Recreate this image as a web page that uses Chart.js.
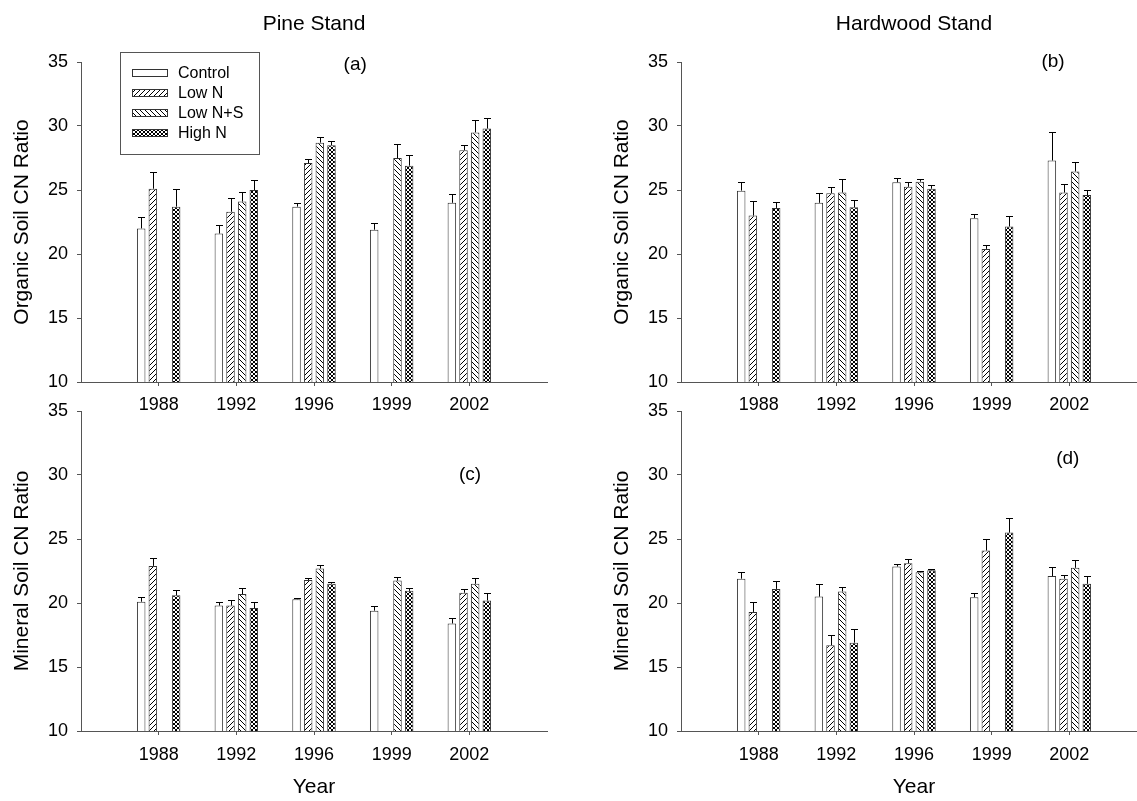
<!DOCTYPE html>
<html>
<head>
<meta charset="utf-8">
<script src="https://cdn.jsdelivr.net/npm/chart.js@4.4.1/dist/chart.umd.min.js"></script>
<style>
  html, body { margin: 0; padding: 0; background: #fff; overflow: hidden; }
  #wrap { position: relative; width: 1137px; height: 801px; overflow: hidden; }
  canvas { position: absolute; }
</style>
</head>
<body>
<div id="wrap">
  <canvas id="panelA" width="568" height="420" style="left:0;top:0"></canvas>
  <canvas id="panelB" width="560" height="420" style="left:600px;top:0"></canvas>
  <canvas id="panelC" width="568" height="411" style="left:0;top:390px"></canvas>
  <canvas id="panelD" width="560" height="411" style="left:600px;top:390px"></canvas>
</div>
<script>
// Data: CN ratio means and (upper) standard errors
const years = ['1988', '1992', '1996', '1999', '2002'];
const treatments = ['Control', 'Low N', 'Low N+S', 'High N'];
const yTicks = [10, 15, 20, 25, 30, 35];

// (a) Pine stand, organic soil   -- rows: Control, Low N, Low N+S, High N
const pineOrganic = [
    [22.0, 21.6, 23.7, 21.9, 24.0],
    [25.1, 23.3, 27.1, null, 28.1],
    [null, 24.1, 28.7, 27.5, 29.5],
    [23.7, 25.0, 28.5, 26.9, 29.8]
];
const pineOrganicErr = [
    [0.9, 0.7, 0.25, 0.55, 0.7],
    [1.3, 1.05, 0.3, null, 0.45],
    [null, 0.75, 0.45, 1.1, 0.95],
    [1.4, 0.8, 0.3, 0.85, 0.85]
];

// (b) Hardwood stand, organic soil
const hardOrganic = [
    [24.95, 24.0, 25.6, 22.8, 27.3],
    [23.0, 24.75, 25.25, 20.4, 24.8],
    [null, 24.8, 25.65, null, 26.45],
    [23.6, 23.65, 25.1, 22.15, 24.6]
];
const hardOrganicErr = [
    [0.7, 0.8, 0.35, 0.35, 2.2],
    [1.15, 0.5, 0.4, 0.3, 0.65],
    [null, 1.05, 0.2, null, 0.75],
    [0.5, 0.6, 0.3, 0.85, 0.4]
];

// (c) Pine stand, mineral soil
const pineMineral = [
    [20.1, 19.8, 20.3, 19.4, 18.4],
    [22.9, 19.8, 21.8, null, 20.8],
    [null, 20.7, 22.7, 21.75, 21.5],
    [20.6, 19.6, 21.5, 20.95, 20.2]
];
const pineMineralErr = [
    [0.4, 0.25, 0.08, 0.35, 0.45],
    [0.6, 0.4, 0.15, null, 0.3],
    [null, 0.45, 0.25, 0.3, 0.45],
    [0.4, 0.5, 0.12, 0.2, 0.55]
];

// (d) Hardwood stand, mineral soil
const hardMineral = [
    [21.9, 20.5, 22.85, 20.45, 22.1],
    [19.3, 16.7, 23.1, 24.1, 21.9],
    [null, 20.9, 22.4, null, 22.75],
    [21.1, 16.9, 22.55, 25.5, 21.5]
];
const hardMineralErr = [
    [0.5, 0.95, 0.2, 0.35, 0.7],
    [0.75, 0.8, 0.3, 0.9, 0.3],
    [null, 0.35, 0.1, null, 0.6],
    [0.6, 1.05, 0.08, 1.15, 0.6]
];

const FONT = "'Liberation Sans', Arial, sans-serif";
const AXIS = '#555';

// hatch fills
function makePattern(size, draw) {
    const c = document.createElement('canvas');
    c.width = c.height = size;
    const g = c.getContext('2d');
    g.fillStyle = '#fff';
    g.fillRect(0, 0, size, size);
    g.strokeStyle = '#000';
    g.lineWidth = 1;
    draw(g, size);
    return g.createPattern(c, 'repeat');
}
const slash = (g, s) => {
    g.beginPath();
    g.moveTo(0, s); g.lineTo(s, 0);
    g.moveTo(-1, 1); g.lineTo(1, -1);
    g.moveTo(s - 1, s + 1); g.lineTo(s + 1, s - 1);
    g.stroke();
};
const backslash = (g, s) => {
    g.beginPath();
    g.moveTo(0, 0); g.lineTo(s, s);
    g.moveTo(-1, s - 1); g.lineTo(1, s + 1);
    g.moveTo(s - 1, -1); g.lineTo(s + 1, 1);
    g.stroke();
};
const fills = [
    '#fff',
    makePattern(5, slash),
    makePattern(5, backslash),
    makePattern(4, (g, s) => { slash(g, s); backslash(g, s); })
];

// upper error bars with a cap
const errorBars = {
    id: 'errorBars',
    afterDatasetsDraw(chart) {
        const ctx = chart.ctx;
        const y = chart.scales.y;
        ctx.save();
        ctx.strokeStyle = '#000';
        ctx.lineWidth = 1;
        chart.data.datasets.forEach((ds, i) => {
            chart.getDatasetMeta(i).data.forEach((bar, j) => {
                const v = ds.data[j].y;
                const e = ds.errors[j];
                if (v == null || e == null) return;
                const top = Math.round(y.getPixelForValue(v + e)) + 0.5;
                const x = Math.round(bar.x) + 0.5;
                ctx.beginPath();
                ctx.moveTo(x, bar.y);
                ctx.lineTo(x, top);
                ctx.moveTo(x - 3.5, top);
                ctx.lineTo(x + 3.5, top);
                ctx.stroke();
            });
        });
        ctx.restore();
    }
};

// (a), (b) ... placed in data units
const panelLabel = {
    id: 'panelLabel',
    afterDraw(chart, args, opts) {
        if (!opts.text) return;
        const ctx = chart.ctx;
        ctx.save();
        ctx.fillStyle = '#000';
        ctx.font = '19px ' + FONT;
        ctx.textAlign = 'center';
        ctx.textBaseline = 'middle';
        ctx.fillText(opts.text, chart.scales.x.getPixelForValue(opts.x), chart.scales.y.getPixelForValue(opts.y));
        ctx.restore();
    }
};

// boxed legend drawn inside panel (a)
const boxLegend = {
    id: 'boxLegend',
    afterDraw(chart, args, opts) {
        if (!opts.show) return;
        const ctx = chart.ctx;
        ctx.save();
        ctx.strokeStyle = AXIS;
        ctx.lineWidth = 1;
        ctx.strokeRect(120.5, 52.5, 139, 102);
        ctx.font = '16px ' + FONT;
        ctx.textBaseline = 'middle';
        chart.data.datasets.forEach((ds, i) => {
            const cy = 73 + i * 20;
            ctx.fillStyle = ds.backgroundColor;
            ctx.fillRect(132, cy - 3.5, 36, 7);
            ctx.strokeStyle = '#333';
            ctx.strokeRect(132.5, cy - 3.5, 35, 7);
            ctx.fillStyle = '#000';
            ctx.fillText(ds.label, 178, cy + 1);
        });
        ctx.restore();
    }
};

function makePanel(id, means, errs, o) {
    const datasets = treatments.map((name, k) => ({
        label: name,
        data: years.map((yr, i) => ({ x: i + 1, y: means[k][i] })),
        errors: errs[k],
        backgroundColor: fills[k],
        borderColor: '#333',
        borderWidth: 1,
        borderSkipped: false
    }));

    new Chart(document.getElementById(id), {
        type: 'bar',
        data: { datasets: datasets },
        plugins: [errorBars, panelLabel, boxLegend],
        options: {
            responsive: false,
            animation: false,
            barPercentage: 0.73,
            categoryPercentage: 0.6,
            layout: { padding: { left: 0, right: o.padRight, top: o.title ? 0 : 21, bottom: 0 } },
            plugins: {
                legend: { display: false },
                tooltip: { enabled: false },
                title: {
                    display: !!o.title,
                    text: o.title,
                    fullSize: false,
                    color: '#000',
                    font: { family: FONT, size: 21, weight: 'normal' },
                    padding: { top: 11.4, bottom: 25.4 }
                },
                panelLabel: { text: o.letter, x: o.lx, y: o.ly },
                boxLegend: { show: !!o.legend }
            },
            scales: {
                x: {
                    type: 'linear',
                    min: 0,
                    max: 6,
                    offset: false,
                    grid: { offset: false, drawOnChartArea: false, tickLength: 4, color: AXIS },
                    border: { color: AXIS },
                    afterBuildTicks: s => { s.ticks = years.map((yr, i) => ({ value: i + 1 })); },
                    afterFit: s => { s.height = o.xHeight; },
                    ticks: {
                        callback: v => years[v - 1],
                        color: '#000',
                        padding: o.xTitle ? 9 : 8,
                        maxRotation: 0,
                        font: { family: FONT, size: 18 }
                    },
                    title: {
                        display: !!o.xTitle,
                        text: o.xTitle,
                        color: '#000',
                        font: { family: FONT, size: 21 },
                        padding: { top: 0, bottom: 1.4 }
                    }
                },
                y: {
                    min: 10,
                    max: 35,
                    grid: { drawOnChartArea: false, tickLength: 4, color: AXIS },
                    border: { color: AXIS },
                    afterBuildTicks: s => { s.ticks = yTicks.map(v => ({ value: v })); },
                    afterFit: s => { s.width = 81; },
                    ticks: {
                        color: '#000',
                        padding: 9,
                        font: { family: FONT, size: 18 }
                    },
                    title: {
                        display: true,
                        text: o.yTitle,
                        color: '#000',
                        font: { family: FONT, size: 21 },
                        padding: { top: 9.4, bottom: 0 }
                    }
                }
            }
        }
    });
}

makePanel('panelA', pineOrganic, pineOrganicErr, {
    title: 'Pine Stand', yTitle: 'Organic Soil CN Ratio', letter: '(a)', lx: 3.53, ly: 34.8,
    legend: true, padRight: 21, xHeight: 38
});
makePanel('panelB', hardOrganic, hardOrganicErr, {
    title: 'Hardwood Stand', yTitle: 'Organic Soil CN Ratio', letter: '(b)', lx: 4.79, ly: 35.0,
    padRight: 13, xHeight: 38
});
makePanel('panelC', pineMineral, pineMineralErr, {
    yTitle: 'Mineral Soil CN Ratio', letter: '(c)', lx: 5.01, ly: 30.0,
    xTitle: 'Year', padRight: 21, xHeight: 70
});
makePanel('panelD', hardMineral, hardMineralErr, {
    yTitle: 'Mineral Soil CN Ratio', letter: '(d)', lx: 4.98, ly: 31.25,
    xTitle: 'Year', padRight: 13, xHeight: 70
});
</script>
</body>
</html>
